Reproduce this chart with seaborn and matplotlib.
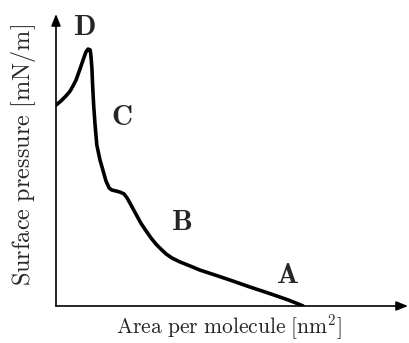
import matplotlib
matplotlib.use("Agg")
import matplotlib.pyplot as plt
import seaborn as sns
import pandas as pd

# Schematic isotherm (arbitrary units)
area = [0.00, 0.14, 0.28, 0.40, 0.48, 0.57, 0.65, 0.74, 0.80, 0.85, 0.91, 0.97, 0.99,
        1.02, 1.04, 1.07, 1.11, 1.16, 1.25, 1.34, 1.42, 1.51, 1.59, 1.70, 1.82, 1.93,
        2.02, 2.13, 2.27, 2.41, 2.56, 2.70, 2.84, 2.98, 3.13, 3.30, 3.52, 3.81, 4.09,
        4.52, 4.94, 5.51, 5.94, 6.28, 6.59, 6.82, 7.02]
pressure = [6.88, 7.02, 7.19, 7.36, 7.53, 7.74, 8.01, 8.32, 8.53, 8.70, 8.80, 8.77, 8.60,
            8.15, 7.57, 6.88, 6.20, 5.51, 5.00, 4.62, 4.28, 4.04, 3.97, 3.94, 3.90, 3.84,
            3.70, 3.46, 3.15, 2.84, 2.57, 2.33, 2.12, 1.95, 1.78, 1.64, 1.51, 1.37, 1.23,
            1.06, 0.89, 0.65, 0.48, 0.34, 0.21, 0.10, 0.00]
phase_labels = ["D", "C", "B", "A"]
label_x = [0.82, 1.875, 3.58, 6.59]
label_y = [9.28, 6.20, 2.60, 0.79]

sns.set_style("white")
plt.rcParams["mathtext.fontset"] = "cm"
plt.rcParams["font.family"] = ["DejaVu Serif"]

W, H = 409, 343
fig = plt.figure(figsize=(W / 100, H / 100), dpi=100)
x0, y0, x1, y1 = 56, 306, 408, 14
ax = fig.add_axes([x0 / W, (H - y0) / H, (x1 - x0) / W, (y0 - y1) / H])
ax.set_xlim(0, 10)
ax.set_ylim(0, 10)

df = pd.DataFrame({"area": area, "pressure": pressure})
sns.lineplot(data=df, x="area", y="pressure", sort=False, ax=ax,
             color="black", linewidth=2.6, solid_capstyle="round", solid_joinstyle="round")

for s in ax.spines.values():
    s.set_visible(False)
ax.set_xticks([])
ax.set_yticks([])
ax.set_xlabel("")
ax.set_ylabel("")

arrow = dict(arrowstyle="-|>,head_length=0.7,head_width=0.28", color="black",
             linewidth=1.2, shrinkA=0, shrinkB=0)
ax.annotate("", xy=(10, 0), xytext=(0, 0), arrowprops=arrow, annotation_clip=False)
ax.annotate("", xy=(0, 10), xytext=(0, 0), arrowprops=arrow, annotation_clip=False)

for t, lx, ly in zip(phase_labels, label_x, label_y):
    ax.text(lx, ly, r"$\mathbf{" + t + "}$", fontsize=21, ha="center", va="baseline")

fig.text(229 / W, 1 - 327 / H, r"$\mathrm{Area\ per\ molecule\ [nm^2]}$",
         fontsize=15.5, ha="center", va="center")
fig.text(24 / W, 1 - 155 / H, r"$\mathrm{Surface\ pressure\ [mN/m]}$",
         fontsize=17.5, ha="center", va="center", rotation=90)

fig.savefig("out.png", dpi=100)
